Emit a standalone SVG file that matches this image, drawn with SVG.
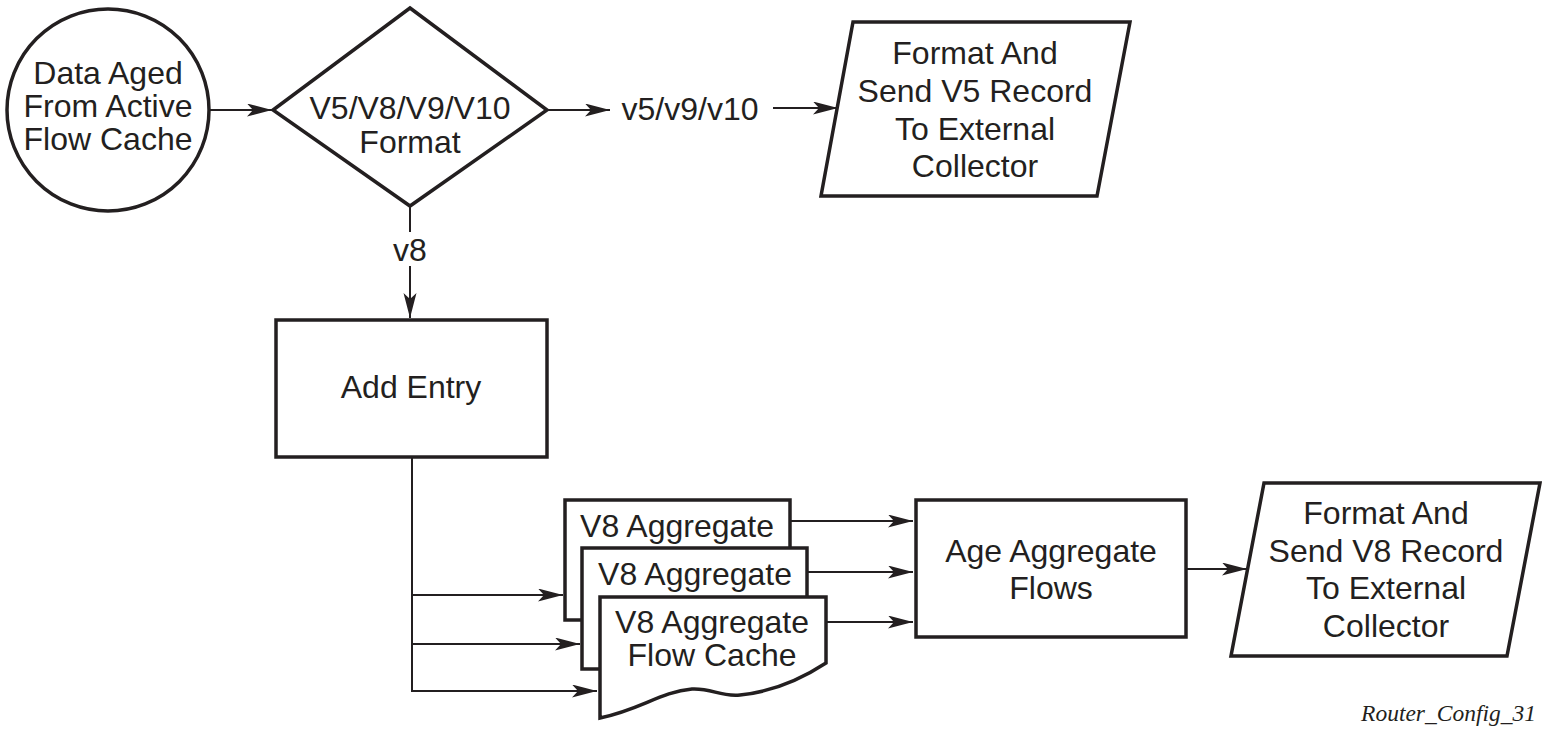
<svg xmlns="http://www.w3.org/2000/svg" width="1548" height="736" viewBox="0 0 1548 736">
<defs>
<marker id="arr" markerUnits="userSpaceOnUse" markerWidth="27" markerHeight="14" refX="25" refY="6.5" orient="auto">
<path d="M0,0 L25,6.5 L0,13 L6,6.5 z" fill="#231f20"/>
</marker>
<style>
.shape{fill:#fff;stroke:#231f20;stroke-width:3.5;stroke-linejoin:miter}
.conn{fill:none;stroke:#231f20;stroke-width:2}
.arrow{marker-end:url(#arr)}
text{font-family:"Liberation Sans",Arial,sans-serif;font-size:32px;fill:#231f20;text-anchor:middle}
.cap{font-family:"Liberation Serif","Times New Roman",serif;font-style:italic;font-size:23.5px;text-anchor:end}
</style>
</defs>
<rect width="1548" height="736" fill="#fff"/>
<g id="connectors">
<line class="conn arrow" x1="210" y1="110" x2="272" y2="110"/>
<line class="conn arrow" x1="547" y1="110" x2="610" y2="110"/>
<line class="conn arrow" x1="773" y1="108" x2="838" y2="108"/>
<line class="conn" x1="410" y1="206" x2="410" y2="232"/>
<line class="conn arrow" x1="410" y1="266" x2="410" y2="318"/>
<polyline class="conn" points="412,457 412,691"/>
<line class="conn arrow" x1="412" y1="595" x2="563" y2="595"/>
<line class="conn arrow" x1="412" y1="644" x2="580" y2="644"/>
<line class="conn arrow" x1="411" y1="691" x2="597" y2="691"/>
<line class="conn arrow" x1="790" y1="521" x2="913" y2="521"/>
<line class="conn arrow" x1="807" y1="572" x2="913" y2="572"/>
<line class="conn arrow" x1="825" y1="622" x2="913" y2="622"/>
<line class="conn arrow" x1="1186" y1="569" x2="1247" y2="569"/>
<text x="690" y="120">v5/v9/v10</text>
<text x="410" y="261">v8</text>
</g>
<g id="start">
<circle class="shape" cx="108" cy="110" r="101"/>
<text x="108" y="84">Data Aged</text>
<text x="108" y="117">From Active</text>
<text x="108" y="150">Flow Cache</text>
</g>
<g id="decision">
<polygon class="shape" points="410,8 547,110 410,206 273,110"/>
<text x="410" y="119">V5/V8/V9/V10</text>
<text x="410" y="153">Format</text>
</g>
<g id="sendV5">
<polygon class="shape" points="853,22 1130,22 1097,196 821,196"/>
<text x="975" y="64">Format And</text>
<text x="975" y="102">Send V5 Record</text>
<text x="975" y="140">To External</text>
<text x="975" y="177">Collector</text>
</g>
<g id="addEntry">
<rect class="shape" x="276" y="320" width="271" height="137"/>
<text x="411" y="398">Add Entry</text>
</g>
<g id="cache1">
<rect class="shape" x="565" y="500" width="225" height="120"/>
<text x="677" y="537">V8 Aggregate</text>
</g>
<g id="cache2">
<rect class="shape" x="582" y="548" width="225" height="121"/>
<text x="695" y="585">V8 Aggregate</text>
</g>
<g id="cache3">
<path class="shape" d="M600,597 H826 V663 C800,680 770,692 740,695 C720,697 712,688 692,689 C660,692 640,710 600,718 Z"/>
<text x="712" y="633">V8 Aggregate</text>
<text x="712" y="666">Flow Cache</text>
</g>
<g id="ageFlows">
<rect class="shape" x="916" y="500" width="270" height="137"/>
<text x="1051" y="562">Age Aggregate</text>
<text x="1051" y="599">Flows</text>
</g>
<g id="sendV8">
<polygon class="shape" points="1264,483 1540,483 1507,656 1231,656"/>
<text x="1386" y="524">Format And</text>
<text x="1386" y="562">Send V8 Record</text>
<text x="1386" y="599">To External</text>
<text x="1386" y="637">Collector</text>
</g>
<text class="cap" x="1536" y="721">Router_Config_31</text>
</svg>
